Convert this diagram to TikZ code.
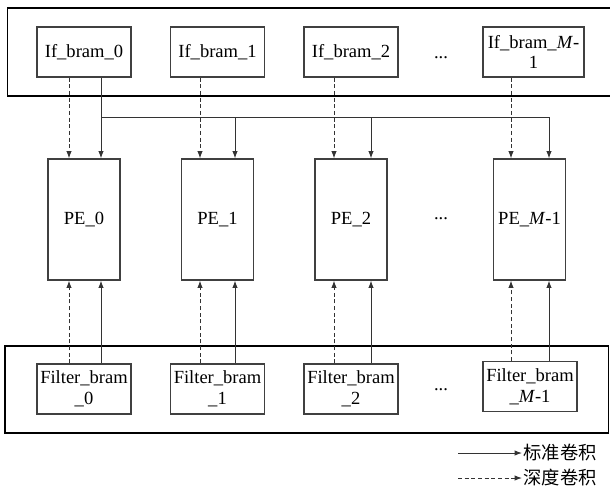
\documentclass[tikz,border=0pt]{standalone}
\usepackage{fontspec}
\setmainfont{Liberation Serif}
\newfontfamily\cjk{Noto Sans CJK SC}
\usetikzlibrary{arrows.meta}
\begin{document}
\begin{tikzpicture}[x=0.75pt,y=-0.75pt,
  every node/.style={font=\fontsize{13.9}{15.5}\selectfont},
  container/.style={draw=black,line width=0.8pt},
  brambox/.style={draw=black!75,line width=0.8pt,minimum width=70.5pt,minimum height=37.5pt,inner sep=0pt,align=center},
  pebox/.style={draw=black!75,line width=0.8pt,minimum width=54pt,minimum height=90.75pt,inner sep=0pt},
  solidarr/.style={draw=black!80,line width=0.7pt,-{Latex[length=5.5pt,width=4pt]}},
  dasharr/.style={solidarr,dash pattern=on 3pt off 2pt},
  dots/.style={inner sep=0pt}]
\useasboundingbox[fill=white] (0,0) rectangle (610,486);
% containers
\draw[container] (7.5,8) rectangle (616,96);
\draw[container] (5,346) rectangle (608.5,433);
% If brams
\node[brambox] (if0) at (84,52) {If\_bram\_0};
\node[brambox] (if1) at (217.5,52) {If\_bram\_1};
\node[brambox] (if2) at (351,52) {If\_bram\_2};
\node[brambox,minimum width=75.75pt] (ifm) at (533.5,52) {If\_bram\_\textit{M}-\\1};
\node[dots] (dt) at (441,58) {...};
% PEs
\node[pebox] (pe0) at (84,219.5) {PE\_0};
\node[pebox] (pe1) at (217.5,219.5) {PE\_1};
\node[pebox] (pe2) at (351,219.5) {PE\_2};
\node[pebox] (pem) at (529.5,219.5) {PE\_\textit{M}-1};
\node[dots] (dm) at (441,219) {...};
% Filter brams
\node[brambox] (f0) at (84,389) {Filter\_bram\\\_0};
\node[brambox] (f1) at (217.5,389) {Filter\_bram\\\_1};
\node[brambox] (f2) at (351,389) {Filter\_bram\\\_2};
\node[brambox] (fm) at (530,386.5) {Filter\_bram\\\_\textit{M}-1};
\node[dots] (db) at (441,390) {...};
% column coordinates
\coordinate (d0) at (69,0); \coordinate (s0) at (101,0);
\coordinate (d1) at (200,0); \coordinate (s1) at (235,0);
\coordinate (d2) at (334,0); \coordinate (s2) at (371,0);
\coordinate (dm3) at (511,0); \coordinate (sm3) at (549,0);
\coordinate (bus) at (0,117);
% top connectors
\draw[dasharr] (if0.south -| d0) -- (pe0.north -| d0);
\draw[dasharr] (if1.south -| d1) -- (pe1.north -| d1);
\draw[dasharr] (if2.south -| d2) -- (pe2.north -| d2);
\draw[dasharr] (ifm.south -| dm3) -- (pem.north -| dm3);
\draw[solidarr] (if0.south -| s0) -- (pe0.north -| s0);
\draw[draw=black!80,line width=0.7pt] (bus -| s0) -- (bus -| sm3);
\draw[solidarr] (bus -| s1) -- (pe1.north -| s1);
\draw[solidarr] (bus -| s2) -- (pe2.north -| s2);
\draw[solidarr] (bus -| sm3) -- (pem.north -| sm3);
% bottom connectors
\draw[dasharr] (f0.north -| d0) -- (pe0.south -| d0);
\draw[dasharr] (f1.north -| d1) -- (pe1.south -| d1);
\draw[dasharr] (f2.north -| d2) -- (pe2.south -| d2);
\draw[dasharr] (fm.north -| dm3) -- (pem.south -| dm3);
\draw[solidarr] (f0.north -| s0) -- (pe0.south -| s0);
\draw[solidarr] (f1.north -| s1) -- (pe1.south -| s1);
\draw[solidarr] (f2.north -| s2) -- (pe2.south -| s2);
\draw[solidarr] (fm.north -| sm3) -- (pem.south -| sm3);
% legend
\node[anchor=west,inner sep=1pt,font=\cjk\fontsize{13.7}{15}\selectfont] (l1) at (522,453) {标准卷积};
\node[anchor=west,inner sep=1pt,font=\cjk\fontsize{13.7}{15}\selectfont] (l2) at (522,478) {深度卷积};
\coordinate (ls1) at (458,453);
\coordinate (ls2) at (458,478);
\draw[solidarr] (ls1) -- (l1.west);
\draw[dasharr] (ls2) -- (l2.west);
\end{tikzpicture}
\end{document}
